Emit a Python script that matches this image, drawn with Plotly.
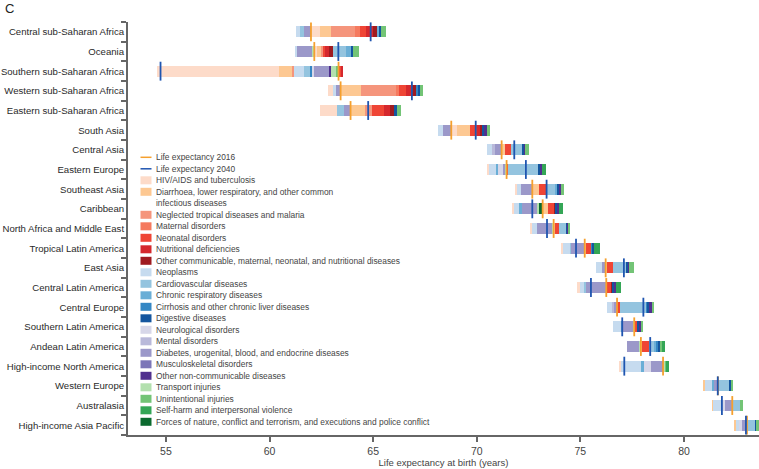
import plotly.graph_objects as go

# ---------------- data ----------------
regions = ["Central sub-Saharan Africa", "Oceania", "Southern sub-Saharan Africa",
           "Western sub-Saharan Africa", "Eastern sub-Saharan Africa", "South Asia",
           "Central Asia", "Eastern Europe", "Southeast Asia", "Caribbean",
           "North Africa and Middle East", "Tropical Latin America", "East Asia",
           "Central Latin America", "Central Europe", "Southern Latin America",
           "Andean Latin America", "High-income North America", "Western Europe",
           "Australasia", "High-income Asia Pacific"]

le2016 = [62.00, 62.16, 63.33, 63.43, 63.91, 68.77, 71.20, 71.44, 72.68, 73.18, 73.71,
          75.21, 76.22, 76.25, 76.77, 77.60, 77.92, 78.99, 81.64, 82.33, 83.04]
le2040 = [64.88, 63.32, 54.74, 66.87, 64.76, 69.95, 71.81, 72.37, 73.37, 72.68, 73.39,
          74.79, 77.10, 75.51, 78.04, 77.02, 78.37, 77.12, 81.63, 81.83, 82.99]

cause_names = ["HIV/AIDS and tuberculosis",
               "Diarrhoea, lower respiratory, and other common<br>infectious diseases",
               "Neglected tropical diseases and malaria", "Maternal disorders",
               "Neonatal disorders", "Nutritional deficiencies",
               "Other communicable, maternal, neonatal, and nutritional diseases",
               "Neoplasms", "Cardiovascular diseases", "Chronic respiratory diseases",
               "Cirrhosis and other chronic liver diseases", "Digestive diseases",
               "Neurological disorders", "Mental disorders",
               "Diabetes, urogenital, blood, and endocrine diseases",
               "Musculoskeletal disorders", "Other non-communicable diseases",
               "Transport injuries", "Unintentional injuries",
               "Self-harm and interpersonal violence",
               "Forces of nature, conflict and terrorism, and executions and police conflict"]

cause_colors = ["#fddbc9", "#fdc892", "#f5957c", "#f57a5f", "#ef4535", "#d5282d", "#9f1b20",
                "#c6dbef", "#94c4df", "#6aaed6", "#3587c4", "#14569f",
                "#d7d7e9", "#b9b9da", "#9b98c9", "#7c76b8", "#50308f",
                "#b3e0ae", "#73c476", "#34a656", "#0b6a2f"]

# contributions (years) of each cause to the change in life expectancy, per region
hiv = [0.43, 0.11, -5.90, -0.27, -0.82, 0.26, 0, -0.10, -0.08, -0.11, -0.05, -0.05, 0, -0.10, 0, 0, 0, -0.06, 0, 0, 0]
diarrhoea = [0.56, 0.19, -0.64, 0.97, 0.72, 0.64, 0.16, 0, 0.34, 0.27, 0.06, 0.05, 0.08, 0, 0, 0, 0.07, 0, -0.07, -0.05, -0.05]
ntd = [1.12, 0.10, -0.05, 1.69, 0.32, 0, 0, 0, 0, 0, 0, 0, 0, 0, 0, 0, 0, 0, 0, 0, 0]
maternal = [0.24, 0, 0, 0.14, 0, 0, 0, 0, 0, 0, 0, 0, 0, 0, 0, 0, 0, 0, 0, 0, 0]
neonatal = [0.29, 0.11, 0.10, 0.34, 0.56, 0.32, 0.27, 0.07, 0.32, 0.29, 0.21, 0.24, 0.26, 0.26, 0.14, 0.16, 0.32, 0, 0, 0, 0]
nutritional = [0.35, 0.21, 0.10, 0.24, 0.32, 0.19, 0, 0, 0, 0, 0, 0, 0, 0, 0, 0, 0, 0, 0, 0, 0]
other_comm = [0.21, 0.19, 0, 0.24, 0.20, 0.08, 0, 0, 0, 0.08, 0, 0, 0, 0.04, 0, 0, 0, 0, 0, 0, 0]
neoplasms = [-0.20, -0.08, -0.52, -0.08, 0, -0.26, -0.27, -0.36, -0.22, -0.29, -0.27, -0.35, -0.32, -0.24, -0.30, -0.41, 0, -0.98, -0.36, -0.41, -0.19]
cardio = [-0.20, 0.61, -0.29, 0, -0.35, 0, 0.53, 1.43, 0.43, 0, 0.35, -0.05, 0.68, -0.05, 1.27, 0, 0.24, 0, 0.58, 0.37, 0.39]
chronic_resp = [0.11, 0.23, 0, 0, 0, 0, 0, -0.08, 0.11, -0.08, 0, 0, 0, 0, 0, -0.08, 0.10, -0.14, -0.07, 0, 0]
cirrhosis = [0, 0, -0.08, 0.14, 0, 0, 0, 0, 0, 0, 0, 0.10, 0, 0, 0.05, 0, 0.10, 0, 0, 0, 0]
digestive = [0.08, 0.13, 0, 0.07, 0.12, 0.13, 0.13, 0.12, 0.13, 0.06, 0.05, 0.06, 0.06, 0.11, 0.10, 0.06, 0.07, 0, 0.05, 0, 0.05]
neurological = [0, 0, -0.08, 0, 0, 0, 0, -0.22, 0, 0, 0, 0, 0, 0, 0, 0, 0, -0.34, 0, -0.16, -0.08]
mental = [0, 0, 0, 0, 0, 0, -0.08, 0, 0, 0, 0, 0, 0, 0, -0.05, 0, 0, 0, 0, 0, 0]
diabetes = [-0.34, -0.75, -0.77, -0.24, -0.32, -0.39, -0.34, -0.13, -0.53, -0.78, -0.69, -0.63, -0.16, -1.00, -0.15, -0.48, -0.62, -0.55, -0.21, -0.35, -0.26]
musculo = [0, 0, 0, 0, 0, 0, 0, 0, 0, 0, 0, 0, 0, 0, 0, 0, 0, -0.04, 0, 0, 0]
other_ncd = [0, 0, -0.08, 0, 0, 0.08, 0.06, 0.08, 0.05, 0.11, 0.05, 0, 0.06, 0.05, 0.11, 0.10, 0, 0, 0, 0, 0]
transport = [0, -0.10, -0.27, 0, 0, 0, 0, -0.05, 0, -0.08, -0.10, -0.03, 0, 0, 0, -0.04, -0.05, 0.12, 0, 0, 0]
unintentional = [0.24, 0.27, -0.08, 0.14, 0.18, 0.19, 0.16, 0, 0.14, 0, 0.07, 0, 0.24, 0, 0.13, 0.11, 0.14, 0.02, 0.08, 0.13, 0.13]
self_harm = [0, 0, 0, 0, 0, 0, 0, 0.18, 0, 0.19, 0, 0.29, 0, 0.23, 0, 0, 0.13, 0.13, 0, 0, 0]
forces = [0, 0, 0, 0, 0, 0, 0, 0, 0, -0.16, 0, 0, 0, 0, 0, 0, 0, 0, 0, 0, 0]

contributions = [hiv, diarrhoea, ntd, maternal, neonatal, nutritional, other_comm,
                 neoplasms, cardio, chronic_resp, cirrhosis, digestive, neurological,
                 mental, diabetes, musculo, other_ncd, transport, unintentional,
                 self_harm, forces]

x_ticks = [55, 60, 65, 70, 75, 80]

# ---------------- layout constants ----------------
W, H = 759, 469
ML, MR, MT, MB = 128, 0, 22, 34
PW, PH = W - ML - MR, H - MT - MB
FONT = "Liberation Sans, Arial, sans-serif"


def px(xp):
    return (xp - ML) / PW


def py(yp):
    return (H - MB - yp) / PH


n = len(regions)
ypos = list(range(n))

# ---------------- build stacked segments ----------------
neg_cursor = [le2016[i] - sum(-c[i] for c in contributions if c[i] < 0) for i in range(n)]
pos_cursor = list(le2016)

fig = go.Figure()
for name, color, vals in zip(cause_names, cause_colors, contributions):
    bases, widths = [], []
    for i, v in enumerate(vals):
        if v < 0:
            bases.append(neg_cursor[i]); widths.append(-v); neg_cursor[i] += -v
        elif v > 0:
            bases.append(pos_cursor[i]); widths.append(v); pos_cursor[i] += v
        else:
            bases.append(le2016[i]); widths.append(0)
    fig.add_trace(go.Bar(orientation="h", y=ypos, x=widths, base=bases, width=0.55,
                         marker=dict(color=color, line=dict(width=0)),
                         name=name, showlegend=False))


def vlines(vals):
    xs, ys = [], []
    for i, v in enumerate(vals):
        xs += [v, v, None]
        ys += [i - 0.48, i + 0.48, None]
    return xs, ys


for vals, col, nm in [(le2016, "#f5a02e", "Life expectancy 2016"),
                      (le2040, "#1f55b0", "Life expectancy 2040")]:
    xs, ys = vlines(vals)
    fig.add_trace(go.Scatter(x=xs, y=ys, mode="lines", line=dict(color=col, width=1.8),
                             name=nm, showlegend=False))

# ---------------- custom compact legend ----------------
shapes, annotations = [], []
leg_x0, leg_x1, txt_x = 140.5, 151.5, 154
y0, dy = 157.3, 11.5
items = [("line", "#f5a02e", "Life expectancy 2016", 1),
         ("line", "#1f55b0", "Life expectancy 2040", 1)]
for nm, col in zip(cause_names, cause_colors):
    items.append(("box", col, nm, nm.count("<br>") + 1))

k = 0
for kind, col, nm, nlines in items:
    yc = y0 + dy * k
    if kind == "line":
        shapes.append(dict(type="line", xref="paper", yref="paper",
                           x0=px(leg_x0), x1=px(leg_x1), y0=py(yc), y1=py(yc),
                           line=dict(color=col, width=1.5)))
    else:
        shapes.append(dict(type="rect", xref="paper", yref="paper",
                           x0=px(leg_x0), x1=px(leg_x1), y0=py(yc - 4), y1=py(yc + 4),
                           fillcolor=col, line=dict(width=0)))
    ytxt = yc + dy * (nlines - 1) / 2
    annotations.append(dict(xref="paper", yref="paper", x=px(txt_x), y=py(ytxt),
                            xanchor="left", yanchor="middle", showarrow=False,
                            text=nm, align="left",
                            font=dict(family=FONT, size=8.4, color="#444")))
    k += nlines

annotations.append(dict(xref="paper", yref="paper", x=px(3), y=py(8),
                        xanchor="left", yanchor="middle", showarrow=False, text="C",
                        font=dict(family=FONT, size=13, color="#222")))

fig.update_layout(
    template="none",
    width=W, height=H, barmode="overlay", bargap=0,
    margin=dict(l=ML, r=MR, t=MT, b=MB, autoexpand=False),
    plot_bgcolor="white", paper_bgcolor="white",
    font=dict(family=FONT, size=10, color="#333"),
    shapes=shapes, annotations=annotations,
    xaxis=dict(range=[53.17, 83.62], tickvals=x_ticks, ticks="outside", ticklen=5,
               tickwidth=1.5, tickcolor="#666", showline=True, linecolor="#666",
               linewidth=2, showgrid=False, zeroline=False, automargin=False,
               tickfont=dict(size=10.5, color="#444"),
               title=dict(text="Life expectancy at birth (years)", standoff=3,
                          font=dict(size=9.5, color="#444"))),
    yaxis=dict(range=[n - 0.5, -0.5], tickvals=ypos, ticktext=regions, ticks="",
               showline=True, linecolor="#666", linewidth=2, showgrid=False,
               zeroline=False, automargin=False, tickfont=dict(size=9.6, color="#2a2a2a"),
               minor=dict(tickmode="array", tickvals=[i - 0.5 for i in range(n + 1)],
                          ticks="outside", ticklen=5, tickwidth=1.5, tickcolor="#666",
                          showgrid=False)),
)

fig.write_html("out.html", config={"displayModeBar": False},
               post_script="document.body.style.margin='0';document.body.style.overflow='hidden';")
